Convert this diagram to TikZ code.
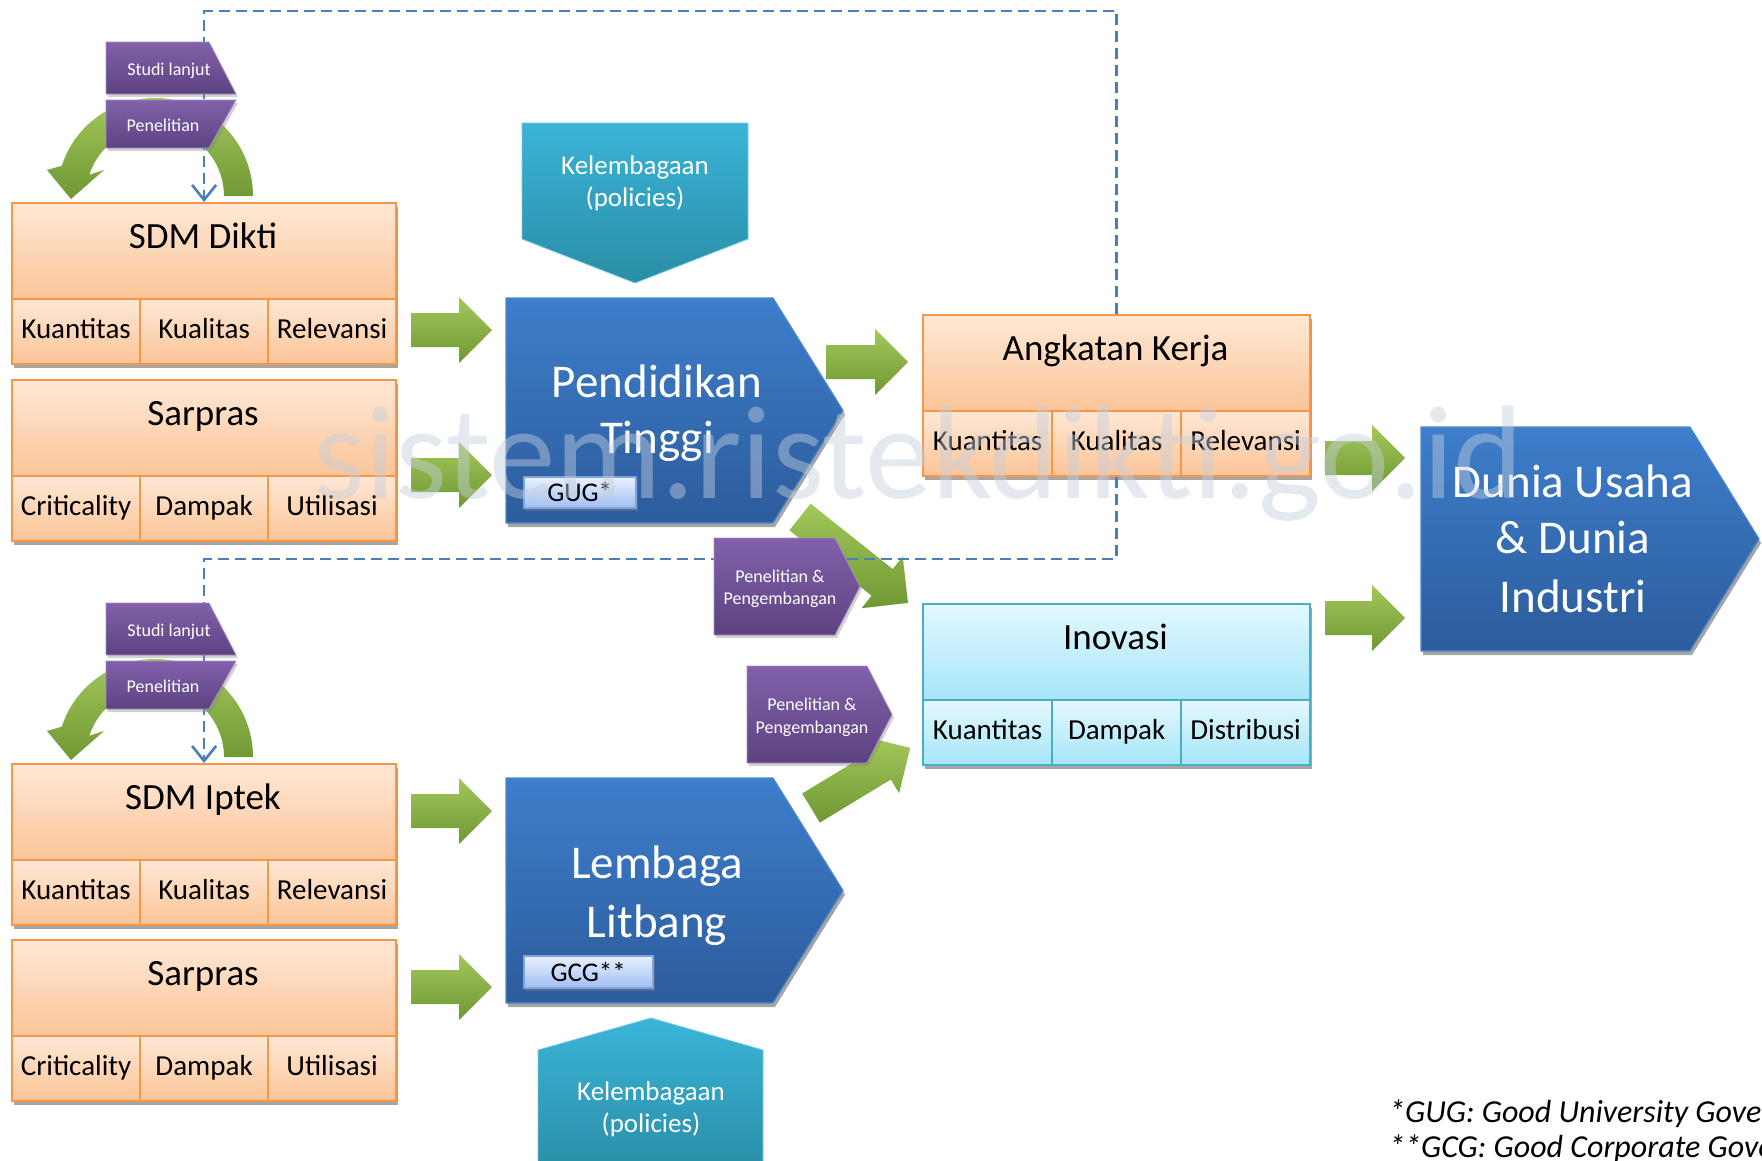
\documentclass[tikz,border=0pt]{standalone}
\usepackage{fontspec}
\setmainfont{Carlito}
\usetikzlibrary{arrows.meta,shadows,calc}

\definecolor{orTop}{HTML}{FEE8D6}
\definecolor{orBot}{HTML}{FBC497}
\definecolor{orLine}{HTML}{F79646}
\definecolor{cyTop}{HTML}{E4F8FE}
\definecolor{cyBot}{HTML}{A5E5F8}
\definecolor{cyLine}{HTML}{4BACC6}
\definecolor{blTop}{HTML}{3E7ECC}
\definecolor{blBot}{HTML}{2C5C9B}
\definecolor{blLine}{HTML}{5088CC}
\definecolor{teTop}{HTML}{3AB4D8}
\definecolor{teBot}{HTML}{2A8DA6}
\definecolor{puTop}{HTML}{8161AB}
\definecolor{puBot}{HTML}{5D4281}
\definecolor{grTop}{HTML}{A3C85A}
\definecolor{grBot}{HTML}{6F9834}
\definecolor{dashBlue}{HTML}{4A7EBB}
\definecolor{ggTop}{HTML}{EAF1FD}
\definecolor{ggBot}{HTML}{A0BFF3}
\definecolor{ggLine}{HTML}{7FA3DA}
\definecolor{wmColor}{HTML}{C5CFDE}

\newcommand{\mytitlefont}{\fontsize{37}{44}\selectfont}
\newcommand{\mycellfont}{\fontsize{29}{34}\selectfont}
\newcommand{\mybigfont}{\fontsize{47}{56}\selectfont}
\newcommand{\mykelfont}{\fontsize{27}{32}\selectfont}
\newcommand{\mysmallfont}{\fontsize{18}{22}\selectfont}
\newcommand{\mygugfont}{\fontsize{27}{32}\selectfont}
\newcommand{\mynotefont}{\itshape\fontsize{32}{38}\selectfont}

\tikzset{
  boxshadow/.style={drop shadow={shadow xshift=2pt, shadow yshift=-4pt, opacity=0.5, fill=black!70}},
  hdr/.style={draw, line width=2.2pt, minimum height=96pt, inner sep=0pt, anchor=north west, boxshadow},
  cell/.style={draw, line width=2.2pt, minimum height=65pt, inner sep=0pt, anchor=north west,
    font=\mycellfont, text height=20pt, text depth=6pt, boxshadow},
  orbox/.style={draw=orLine, top color=orTop, bottom color=orBot},
  cybox/.style={draw=cyLine, top color=cyTop, bottom color=cyBot},
  blueshape/.style={draw=blLine, line width=1.2pt, top color=blTop, bottom color=blBot, boxshadow},
  tealshape/.style={top color=teTop, bottom color=teBot, draw=teTop!70!white, line width=0.8pt},
  purpleshape/.style={top color=puTop, bottom color=puBot, draw=puTop!70!white, line width=0.8pt,
    drop shadow={shadow xshift=2pt, shadow yshift=-3pt, opacity=0.35}},
  greenfill/.style={top color=grTop, bottom color=grBot},
  dashline/.style={draw=dashBlue, line width=2.6pt, dash pattern=on 11pt off 6pt,
    -{Straight Barb[length=15pt,width=24pt]}},
  gugbox/.style={draw=ggLine, line width=1.5pt, top color=ggTop, bottom color=ggBot,
    font=\mygugfont, inner sep=0pt, anchor=north west,
    drop shadow={shadow xshift=2pt, shadow yshift=-3pt, opacity=0.4}},
  bigtext/.style={text=white, font=\mybigfont, anchor=base, inner sep=0pt},
  keltext/.style={text=white, font=\mykelfont, anchor=base, inner sep=0pt},
  smalltext/.style={text=white, font=\mysmallfont, anchor=base, inner sep=0pt},
  notetext/.style={anchor=base west, inner sep=0pt, font=\mynotefont},
}

% three-cell box: name, x, y, cell width, title, c1, c2, c3, colour style
\newcommand{\tribox}[9]{%
  \node[hdr,#9,minimum width={3*#4pt}] (#1) at (#2,#3) {};
  \node[cell,#9,minimum width={#4pt}] (#1-1) at (#2,{#3+96}) {#6};
  \node[cell,#9,minimum width={#4pt}] (#1-2) at ({#2+#4},{#3+96}) {#7};
  \node[cell,#9,minimum width={#4pt}] (#1-3) at ({#2+2*#4},{#3+96}) {#8};
  \node[anchor=base,font=\mytitlefont,inner sep=0pt] (#1-t) at ({#2+1.5*#4},{#3+46}) {#5};
}

% green block arrow: name of tip, tail point, angle, length
\newcommand{\garrow}[4]{%
  \begin{scope}[shift={(#2)}, rotate=#3]
    \path[greenfill] (0,-17) -- ({#4-33},-17) -- ({#4-33},-33) -- (#4,0)
      -- ({#4-33},33) -- ({#4-33},17) -- (0,17) -- cycle;
    \coordinate (#1) at (#4,0);
  \end{scope}}

% curved green arrow above a SDM box
\newcommand{\loopcurve}[1]{%
  \begin{scope}[shift={(0,#1)}]
    \path[greenfill] (253,196) arc[start angle=0,end angle=-162,radius=98]
      -- (47,170) -- (71,199) -- (104,170) -- (89.4,174.7)
      arc[start angle=-162,end angle=0,radius=69] -- cycle;
  \end{scope}}

% the two purple labels of a loop
\newcommand{\looplabels}[2]{%
  \begin{scope}[shift={(0,#2)}]
    \path[purpleshape] (106,42) -- (209,42) -- (236,94) -- (106,94) -- cycle;
    \node[smalltext] (#1s) at (169,75) {Studi lanjut};
    \path[purpleshape] (106,100) -- (236,100) -- (209,148) -- (106,148) -- cycle;
    \node[smalltext] (#1p) at (163,131) {Penelitian};
  \end{scope}}

\begin{document}
\begin{tikzpicture}[x=1pt,y=-1pt]
\useasboundingbox (0,0) rectangle (1762,1160);
\fill[white] (0,0) rectangle (1762,1160);
\clip (0,0) rectangle (1762,1160);

% ---------- three-cell boxes ----------
\tribox{sdmD}{11}{202}{128}{SDM Dikti}{Kuantitas}{Kualitas}{Relevansi}{orbox}
\tribox{spD}{11}{379}{128}{Sarpras}{Criticality}{Dampak}{Utilisasi}{orbox}
\tribox{sdmI}{11}{763}{128}{SDM Iptek}{Kuantitas}{Kualitas}{Relevansi}{orbox}
\tribox{spI}{11}{939}{128}{Sarpras}{Criticality}{Dampak}{Utilisasi}{orbox}
\tribox{ak}{922}{314}{129}{Angkatan Kerja}{Kuantitas}{Kualitas}{Relevansi}{orbox}
\tribox{ino}{922}{603}{129}{Inovasi}{Kuantitas}{Dampak}{Distribusi}{cybox}

% ---------- teal policy shapes ----------
\path[tealshape] (522,123) -- (748,123) -- (748,239) -- (635,283) -- (522,239) -- cycle;
\node[keltext] (kt1) at (635,174) {Kelembagaan};
\node[keltext] (kt2) at (635,206) {(policies)};
\path[tealshape] (538,1050) -- (651,1018) -- (763,1050) -- (763,1175) -- (538,1175) -- cycle;
\node[keltext] (kb1) at (651,1100) {Kelembagaan};
\node[keltext] (kb2) at (651,1132) {(policies)};

% ---------- blue pentagons ----------
\path[blueshape] (506,298) -- (773,298) -- (843,410.5) -- (773,523) -- (506,523) -- cycle;
\node[bigtext] (pt1) at (657,397) {Pendidikan};
\node[bigtext] (pt2) at (657,453) {Tinggi};
\node[gugbox, minimum width=112pt, minimum height=31pt] (gug) at (523,476) {GUG*};

\path[blueshape] (506,778) -- (773,778) -- (843,890.5) -- (773,1003) -- (506,1003) -- cycle;
\node[bigtext] (ll1) at (657,878) {Lembaga};
\node[bigtext] (ll2) at (657,937) {Litbang};
\node[gugbox, minimum width=129pt, minimum height=32pt] (gcg) at (523,955) {GCG**};

\path[blueshape] (1421,427) -- (1690,427) -- (1759,539) -- (1690,651) -- (1421,651) -- cycle;
\node[bigtext] (du1) at (1573,497) {Dunia Usaha};
\node[bigtext] (du2) at (1573,553) {\& Dunia};
\node[bigtext] (du3) at (1573,612) {Industri};

% ---------- green block arrows ----------
\garrow{ga1}{411,330}{0}{81}
\garrow{ga2}{411,475}{0}{81}
\garrow{gb1}{411,811}{0}{81}
\garrow{gb2}{411,987}{0}{81}
\garrow{gc}{826,362}{0}{82}
\garrow{gd1}{1325,458}{0}{80}
\garrow{gd2}{1325,618}{0}{80}
\garrow{ge1}{800,517}{-38.5}{138}
\garrow{ge2}{811,808}{31.2}{116}

% ---------- curved loops ----------
\loopcurve{0}
\loopcurve{561}

% ---------- dashed feedback connectors ----------
\coordinate (topline) at (0,11);
\coordinate (midline) at (0,559);
\draw[dashline] (ak.north) -- (ak.north |- topline) -| (sdmD.north);
\draw[dashline] (ak-2.south) -- (ak-2.south |- midline) -| (sdmI.north);

% ---------- purple labels ----------
\looplabels{la}{0}
\looplabels{lb}{561}

\path[purpleshape] (714,538) -- (835,538) -- (860,586.5) -- (835,635) -- (714,635) -- cycle;
\node[smalltext] (pp1a) at (780,582) {Penelitian \&};
\node[smalltext] (pp1b) at (780,604) {Pengembangan};
\path[purpleshape] (747,666) -- (867,666) -- (892,714.5) -- (867,763) -- (747,763) -- cycle;
\node[smalltext] (pp2a) at (812,710) {Penelitian \&};
\node[smalltext] (pp2b) at (812,733) {Pengembangan};

% ---------- watermark ----------
\node[anchor=base west, inner sep=0pt, font=\fontsize{133}{140}\selectfont, text=wmColor, opacity=0.45]
  (wmark) at (313,498) {sistem.ristekdikti.go.id};

% ---------- footnotes ----------
\node[notetext] (fn1) at (1389,1122) {*GUG: Good University Governance};
\node[notetext] (fn2) at (1389,1157) {**GCG: Good Corporate Governance};
\end{tikzpicture}
\end{document}
